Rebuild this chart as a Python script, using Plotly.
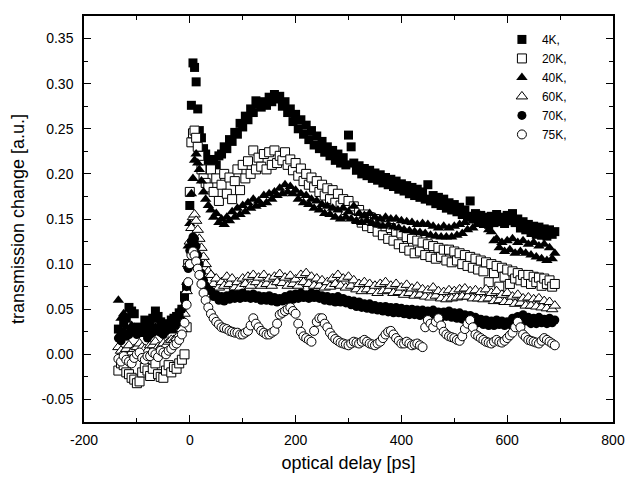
import plotly.graph_objects as go

# delay grid shared by all temperatures (ps)
delay = [
    -135, -130, -125, -120, -115, -110, -105, -100, -95, -90, -85, -80, -75,
    -70, -65, -60, -55, -50, -45, -40, -35, -30, -25, -20, -15,
    -10, -6, -3, 0, 3, 6, 9, 12, 15, 18, 22, 26, 30, 35,
    40, 45, 50, 55, 60, 65, 70, 75, 80, 85,
    90, 95, 100, 105, 110, 115, 120, 125, 130, 135,
    140, 145, 150, 155, 160, 165, 170, 175, 180, 185,
    190, 195, 200, 205, 210, 215, 220, 225, 230, 235,
    240, 245, 250, 255, 260, 265, 270, 275, 280, 285,
    290, 295, 300, 305, 310, 315, 320, 325, 330, 335,
    340, 345, 350, 355, 360, 365, 370, 375, 380, 385,
    390, 395, 400, 405, 410, 415, 420, 425, 430, 435,
    440, 445, 450, 455, 460, 465, 470, 475, 480, 485,
    490, 495, 500, 505, 510, 515, 520, 525, 530, 535,
    540, 545, 550, 555, 560, 565, 570, 575, 580, 585,
    590, 595, 600, 605, 610, 615, 620, 625, 630, 635,
    640, 645, 650, 655, 660, 665, 670, 675, 680, 685,
    690,
]

t_4k = [
    0.028, 0.022, 0.035, 0.040, 0.052, 0.048, 0.045, 0.030, 0.030, 0.026, 0.038, 0.034, 0.032,
    0.040, 0.048, 0.042, 0.036, 0.030, 0.030, 0.034, 0.038, 0.040, 0.042, 0.046, 0.050,
    0.065, 0.075, 0.100, 0.165, 0.276, 0.323, 0.318, 0.302, 0.272, 0.248, 0.240, 0.228, 0.222, 0.215,
    0.212, 0.216, 0.210, 0.220, 0.222, 0.230, 0.228, 0.238, 0.236, 0.246,
    0.244, 0.256, 0.252, 0.264, 0.260, 0.272, 0.268, 0.281, 0.278, 0.274,
    0.280, 0.276, 0.285, 0.280, 0.288, 0.283, 0.286, 0.275, 0.280, 0.268,
    0.272, 0.258, 0.266, 0.250, 0.260, 0.244, 0.254, 0.238, 0.248, 0.232,
    0.242, 0.228, 0.236, 0.224, 0.230, 0.220, 0.226, 0.215, 0.222, 0.212,
    0.218, 0.210, 0.243, 0.230, 0.212, 0.204, 0.209, 0.200, 0.206, 0.198,
    0.204, 0.195, 0.201, 0.193, 0.199, 0.190, 0.196, 0.188, 0.194, 0.186,
    0.192, 0.183, 0.189, 0.181, 0.187, 0.178, 0.185, 0.176, 0.183, 0.174,
    0.180, 0.172, 0.188, 0.170, 0.176, 0.167, 0.174, 0.165, 0.172, 0.162,
    0.168, 0.160, 0.166, 0.158, 0.163, 0.155, 0.160, 0.153, 0.170, 0.150,
    0.156, 0.148, 0.154, 0.145, 0.152, 0.144, 0.153, 0.146, 0.155, 0.147,
    0.152, 0.145, 0.154, 0.148, 0.156, 0.146, 0.150, 0.140, 0.147, 0.138,
    0.144, 0.135, 0.142, 0.133, 0.141, 0.132, 0.139, 0.131, 0.138, 0.133,
    0.136,
]

t_20k = [
    -0.018, -0.010, -0.012, -0.020, -0.022, -0.026, -0.028, -0.032, -0.030, -0.020, -0.015, -0.018, -0.024,
    -0.016, -0.010, -0.022, -0.025, -0.026, -0.018, -0.012, -0.020, -0.014, -0.016, -0.010, -0.006,
    0.000, 0.030, 0.100, 0.180, 0.235, 0.245, 0.248, 0.240, 0.230, 0.220, 0.205, 0.195, 0.190, 0.185,
    0.205, 0.180, 0.195, 0.170, 0.188, 0.200, 0.178, 0.196, 0.172, 0.192,
    0.205, 0.182, 0.210, 0.195, 0.214, 0.200, 0.226, 0.205, 0.218, 0.208,
    0.222, 0.205, 0.224, 0.210, 0.226, 0.212, 0.220, 0.215, 0.224, 0.210,
    0.216, 0.204, 0.212, 0.198, 0.206, 0.192, 0.200, 0.188, 0.196, 0.185,
    0.192, 0.180, 0.188, 0.176, 0.184, 0.172, 0.182, 0.168, 0.178, 0.165,
    0.172, 0.160, 0.170, 0.155, 0.164, 0.150, 0.160, 0.146, 0.155, 0.142,
    0.152, 0.140, 0.150, 0.136, 0.146, 0.132, 0.142, 0.128, 0.140, 0.126,
    0.136, 0.122, 0.134, 0.118, 0.130, 0.115, 0.128, 0.112, 0.126, 0.114,
    0.124, 0.110, 0.122, 0.108, 0.120, 0.106, 0.118, 0.108, 0.116, 0.104,
    0.116, 0.102, 0.114, 0.104, 0.112, 0.100, 0.110, 0.098, 0.108, 0.096,
    0.106, 0.094, 0.104, 0.092, 0.102, 0.080, 0.100, 0.090, 0.098, 0.075,
    0.096, 0.086, 0.094, 0.078, 0.092, 0.084, 0.090, 0.082, 0.088, 0.080,
    0.088, 0.078, 0.086, 0.080, 0.085, 0.076, 0.084, 0.078, 0.082, 0.075,
    0.078,
]

t_40k = [
    0.060, 0.040, 0.045, 0.030, 0.025, 0.032, 0.030, 0.024, 0.028, 0.022, 0.028, 0.032, 0.026,
    0.024, 0.030, 0.026, 0.028, 0.024, 0.028, 0.030, 0.032, 0.026, 0.030, 0.034, 0.040,
    0.055, 0.080, 0.120, 0.145, 0.178, 0.195, 0.215, 0.222, 0.212, 0.205, 0.192, 0.180, 0.172, 0.165,
    0.160, 0.152, 0.156, 0.146, 0.150, 0.144, 0.152, 0.148, 0.158, 0.152,
    0.162, 0.155, 0.165, 0.158, 0.168, 0.162, 0.172, 0.164, 0.170, 0.166,
    0.176, 0.168, 0.178, 0.172, 0.180, 0.176, 0.184, 0.178, 0.188, 0.180,
    0.186, 0.178, 0.182, 0.172, 0.178, 0.168, 0.176, 0.166, 0.172, 0.162,
    0.170, 0.160, 0.166, 0.156, 0.164, 0.155, 0.162, 0.152, 0.160, 0.150,
    0.162, 0.152, 0.158, 0.150, 0.164, 0.148, 0.156, 0.146, 0.154, 0.148,
    0.156, 0.145, 0.152, 0.144, 0.150, 0.142, 0.152, 0.143, 0.150, 0.141,
    0.150, 0.140, 0.148, 0.138, 0.147, 0.137, 0.146, 0.136, 0.144, 0.135,
    0.145, 0.134, 0.144, 0.132, 0.142, 0.131, 0.140, 0.130, 0.142, 0.130,
    0.140, 0.130, 0.142, 0.132, 0.144, 0.134, 0.146, 0.138, 0.150, 0.140,
    0.152, 0.144, 0.154, 0.146, 0.150, 0.138, 0.136, 0.126, 0.128, 0.118,
    0.124, 0.114, 0.126, 0.116, 0.128, 0.112, 0.124, 0.114, 0.126, 0.112,
    0.122, 0.110, 0.124, 0.108, 0.120, 0.106, 0.122, 0.104, 0.118, 0.106,
    0.112,
]

t_60k = [
    0.008, 0.004, 0.002, 0.006, 0.010, 0.002, 0.006, 0.008, 0.012, 0.008, 0.006, 0.004, 0.010,
    0.010, 0.014, 0.008, 0.008, 0.012, 0.010, 0.014, 0.016, 0.016, 0.018, 0.022, 0.028,
    0.045, 0.070, 0.100, 0.125, 0.140, 0.152, 0.155, 0.148, 0.138, 0.128, 0.118, 0.108, 0.100, 0.092,
    0.088, 0.078, 0.084, 0.074, 0.080, 0.076, 0.086, 0.078, 0.084, 0.074,
    0.080, 0.074, 0.084, 0.078, 0.086, 0.076, 0.088, 0.080, 0.085, 0.076,
    0.088, 0.078, 0.084, 0.076, 0.086, 0.080, 0.089, 0.079, 0.085, 0.076,
    0.087, 0.078, 0.083, 0.076, 0.088, 0.080, 0.090, 0.078, 0.086, 0.076,
    0.084, 0.076, 0.082, 0.074, 0.080, 0.075, 0.084, 0.078, 0.088, 0.076,
    0.084, 0.074, 0.086, 0.076, 0.082, 0.072, 0.078, 0.070, 0.080, 0.072,
    0.078, 0.070, 0.076, 0.068, 0.078, 0.070, 0.080, 0.071, 0.076, 0.068,
    0.078, 0.069, 0.074, 0.066, 0.077, 0.068, 0.073, 0.065, 0.075, 0.066,
    0.072, 0.064, 0.071, 0.063, 0.074, 0.065, 0.070, 0.062, 0.069, 0.061,
    0.071, 0.062, 0.070, 0.063, 0.072, 0.064, 0.073, 0.064, 0.070, 0.062,
    0.071, 0.062, 0.069, 0.061, 0.072, 0.062, 0.068, 0.059, 0.070, 0.060,
    0.066, 0.058, 0.068, 0.058, 0.064, 0.056, 0.066, 0.057, 0.062, 0.054,
    0.063, 0.054, 0.061, 0.053, 0.062, 0.052, 0.059, 0.051, 0.058, 0.050,
    0.054,
]

t_70k = [
    0.018, 0.015, 0.024, 0.020, 0.022, 0.026, 0.028, 0.022, 0.024, 0.028, 0.025, 0.018, 0.022,
    0.024, 0.028, 0.026, 0.024, 0.022, 0.026, 0.028, 0.030, 0.034, 0.038, 0.044, 0.050,
    0.060, 0.075, 0.095, 0.115, 0.125, 0.130, 0.128, 0.120, 0.110, 0.100, 0.090, 0.082, 0.076, 0.072,
    0.070, 0.064, 0.066, 0.060, 0.064, 0.059, 0.065, 0.061, 0.067, 0.062,
    0.066, 0.062, 0.068, 0.063, 0.066, 0.062, 0.067, 0.062, 0.065, 0.060,
    0.064, 0.060, 0.065, 0.059, 0.063, 0.058, 0.062, 0.059, 0.064, 0.060,
    0.066, 0.061, 0.067, 0.062, 0.068, 0.063, 0.066, 0.062, 0.068, 0.063,
    0.067, 0.062, 0.065, 0.060, 0.064, 0.059, 0.063, 0.058, 0.064, 0.058,
    0.062, 0.057, 0.060, 0.055, 0.059, 0.053, 0.058, 0.052, 0.056, 0.051,
    0.056, 0.050, 0.054, 0.049, 0.053, 0.048, 0.053, 0.047, 0.052, 0.046,
    0.052, 0.046, 0.051, 0.045, 0.050, 0.044, 0.050, 0.044, 0.049, 0.043,
    0.049, 0.043, 0.048, 0.042, 0.049, 0.042, 0.047, 0.041, 0.047, 0.042,
    0.048, 0.041, 0.046, 0.040, 0.046, 0.039, 0.044, 0.038, 0.043, 0.036,
    0.041, 0.035, 0.039, 0.033, 0.038, 0.032, 0.037, 0.032, 0.038, 0.033,
    0.037, 0.032, 0.036, 0.033, 0.040, 0.035, 0.042, 0.037, 0.044, 0.037,
    0.041, 0.034, 0.040, 0.034, 0.041, 0.035, 0.039, 0.034, 0.040, 0.035,
    0.038,
]

t_75k = [
    -0.005, -0.008, -0.002, -0.006, -0.008, -0.010, -0.004, 0.000, 0.002, -0.004, -0.006, -0.002, -0.002,
    0.002, 0.000, -0.003, 0.004, 0.002, 0.000, 0.004, 0.006, 0.010, 0.012, 0.016, 0.022,
    0.035, 0.055, 0.080, 0.100, 0.110, 0.114, 0.110, 0.103, 0.095, 0.088, 0.078, 0.068, 0.060, 0.052,
    0.045, 0.040, 0.036, 0.033, 0.030, 0.029, 0.028, 0.026, 0.025, 0.024,
    0.024, 0.022, 0.022, 0.024, 0.026, 0.032, 0.040, 0.034, 0.030, 0.026,
    0.024, 0.022, 0.022, 0.024, 0.026, 0.034, 0.044, 0.046, 0.048, 0.050,
    0.052, 0.048, 0.045, 0.034, 0.025, 0.020, 0.018, 0.016, 0.014, 0.026,
    0.036, 0.040, 0.040, 0.034, 0.030, 0.024, 0.020, 0.017, 0.015, 0.013,
    0.012, 0.011, 0.010, 0.012, 0.014, 0.013, 0.012, 0.014, 0.016, 0.014,
    0.012, 0.011, 0.010, 0.012, 0.014, 0.018, 0.022, 0.025, 0.026, 0.022,
    0.018, 0.015, 0.012, 0.012, 0.014, 0.012, 0.010, 0.011, 0.012, 0.010,
    0.008, 0.030, 0.038, 0.034, 0.030, 0.036, 0.040, 0.032, 0.025, 0.022,
    0.020, 0.019, 0.018, 0.016, 0.015, 0.020, 0.028, 0.034, 0.038, 0.030,
    0.022, 0.020, 0.018, 0.016, 0.014, 0.013, 0.012, 0.014, 0.016, 0.014,
    0.013, 0.015, 0.018, 0.021, 0.024, 0.030, 0.036, 0.030, 0.022, 0.019,
    0.016, 0.015, 0.014, 0.013, 0.012, 0.015, 0.018, 0.016, 0.014, 0.012,
    0.010,
]

labels = ["4K,", "20K,", "40K,", "60K,", "70K,", "75K,"]
symbols = ["square", "square", "triangle-up", "triangle-up", "circle", "circle"]
filled = [True, False, True, False, True, False]
series = [t_4k, t_20k, t_40k, t_60k, t_70k, t_75k]

x_ticks = [-200, 0, 200, 400, 600, 800]
x_ticklabels = ["-200", "0", "200", "400", "600", "800"]
y_ticks = [-0.05, 0.0, 0.05, 0.10, 0.15, 0.20, 0.25, 0.30, 0.35]
y_ticklabels = ["-0.05", "0.00", "0.05", "0.10", "0.15", "0.20", "0.25", "0.30", "0.35"]

FONT = "Arial, Liberation Sans, sans-serif"

fig = go.Figure()
for name, ys, sym, full in zip(labels, series, symbols, filled):
    if len(ys) != len(delay):
        raise ValueError(f"{name} has {len(ys)} values, expected {len(delay)}")
    fig.add_trace(
        go.Scatter(
            x=delay,
            y=ys,
            mode="markers",
            name=name,
            marker=dict(
                symbol=sym,
                size=10 if sym == "triangle-up" else 9,
                color="black" if full else "white",
                line=dict(color="black", width=0 if full else 1),
            ),
        )
    )

axis_common = dict(
    showline=True,
    linecolor="black",
    linewidth=1.5,
    mirror="allticks",
    ticks="inside",
    ticklen=7,
    tickwidth=1.2,
    tickcolor="black",
    showgrid=False,
    zeroline=False,
    tickmode="array",
    tickfont=dict(family=FONT, size=14, color="black"),
)

fig.update_xaxes(
    range=[-200, 800],
    tickvals=x_ticks,
    ticktext=x_ticklabels,
    ticklabelstandoff=4,
    minor=dict(tickmode="linear", tick0=-100, dtick=100, ticks="inside", ticklen=4, tickcolor="black"),
    title=dict(text="optical delay [ps]", font=dict(family=FONT, size=18, color="black"), standoff=10),
    **axis_common,
)
fig.update_yaxes(
    range=[-0.075, 0.375],
    tickvals=y_ticks,
    ticktext=y_ticklabels,
    ticklabelstandoff=6,
    minor=dict(tickmode="linear", tick0=-0.075, dtick=0.025, ticks="inside", ticklen=4, tickcolor="black"),
    title=dict(text="transmission change [a.u.]", font=dict(family=FONT, size=18, color="black"), standoff=15),
    **axis_common,
)

# page body adds an 8px offset, margins are trimmed to keep the frame in place
fig.update_layout(
    width=642,
    height=481,
    margin=dict(l=75, r=37, t=6, b=67),
    paper_bgcolor="white",
    plot_bgcolor="white",
    legend=dict(
        x=0.79,
        y=0.978,
        xanchor="left",
        yanchor="top",
        bgcolor="rgba(0,0,0,0)",
        font=dict(family=FONT, size=12, color="black"),
        tracegroupgap=0,
    ),
)

fig.write_html("out.html")
